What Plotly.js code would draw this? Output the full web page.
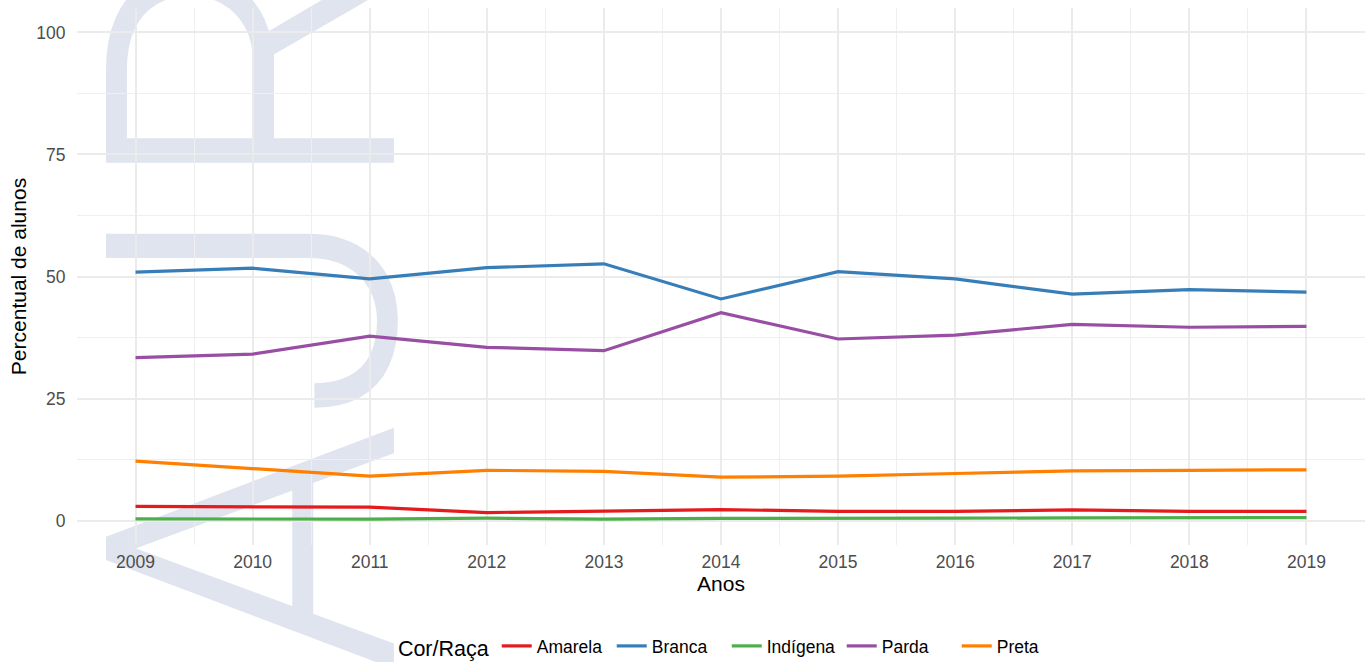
<!DOCTYPE html>
<html>
<head>
<meta charset="utf-8">
<script src="https://cdn.plot.ly/plotly-3.0.1.min.js"></script>
<style>html,body{margin:0;padding:0;background:#fff;}#chart{width:1370px;height:662px;}</style>
</head>
<body>
<div id="chart"></div>
<script>
const anos = [2009, 2010, 2011, 2012, 2013, 2014, 2015, 2016, 2017, 2018, 2019];
const categorias = ['Amarela', 'Branca', 'Indígena', 'Parda', 'Preta'];
const amarela  = [2.9, 2.75, 2.75, 1.65, 2.0, 2.25, 1.9, 1.9, 2.2, 1.9, 1.9];
const branca   = [50.9, 51.7, 49.5, 51.8, 52.6, 45.4, 51.0, 49.5, 46.4, 47.3, 46.8];
const indigena = [0.35, 0.35, 0.3, 0.5, 0.3, 0.45, 0.4, 0.5, 0.55, 0.55, 0.6];
const parda    = [33.4, 34.1, 37.8, 35.5, 34.8, 42.6, 37.2, 38.0, 40.2, 39.6, 39.8];
const preta    = [12.2, 10.6, 9.1, 10.3, 10.1, 8.9, 9.1, 9.65, 10.2, 10.3, 10.4];
const series = [amarela, branca, indigena, parda, preta];
const cores = ['#E41A1C', '#377EB8', '#4DAF4A', '#984EA3', '#FF7F00'];

const font = 'Liberation Sans, Arial, sans-serif';
const traces = categorias.map((nome, i) => ({
  type: 'scatter', mode: 'lines', name: nome,
  x: anos, y: series[i],
  line: {color: cores[i], width: 3.2}
}));

const layout = {
  width: 1370, height: 662,
  margin: {l: 77, r: 5, t: 8, b: 117, autoexpand: false},
  paper_bgcolor: '#ffffff', plot_bgcolor: '#ffffff',
  font: {family: font, color: '#000'},
  showlegend: true,
  xaxis: {
    range: [2008.5, 2019.5], tickmode: 'array', tickvals: anos, ticktext: anos.map(String),
    showgrid: true, gridcolor: '#ebebeb', gridwidth: 2, zeroline: false, showline: false,
    ticks: 'outside', ticklen: 1, tickcolor: 'rgba(0,0,0,0)',
    tickfont: {size: 17.5, color: '#4D4D4D', family: font},
    minor: {dtick: 0.5, tick0: 2008.5, showgrid: true, gridcolor: '#efefef', gridwidth: 1.4, ticks: ''},
    title: {text: 'Anos', font: {size: 21, color: '#000', family: font}, standoff: 5}
  },
  yaxis: {
    range: [-5, 105], tickmode: 'array', tickvals: [0, 25, 50, 75, 100],
    showgrid: true, gridcolor: '#ebebeb', gridwidth: 2, zeroline: false, showline: false,
    ticks: 'outside', ticklen: 7, tickcolor: 'rgba(0,0,0,0)',
    tickfont: {size: 17.5, color: '#4D4D4D', family: font},
    minor: {dtick: 12.5, tick0: 0, showgrid: true, gridcolor: '#efefef', gridwidth: 1.4, ticks: ''},
    title: {text: 'Percentual de alunos', font: {size: 21, color: '#000', family: font}, standoff: 3}
  },
  legend: {
    orientation: 'h', x: 0.51, xanchor: 'center', y: -0.19, yanchor: 'middle',
    font: {size: 17.5, family: font, color: '#000'},
    title: {text: 'Cor/Raça', side: 'left', font: {size: 21.5, family: font, color: '#000'}},
    itemwidth: 30, tracegroupgap: 0,
    entrywidth: 70, entrywidthmode: 'pixels'
  },
  shapes: [{
    type: 'rect', xref: 'paper', yref: 'paper', layer: 'between',
    x0: 0.108, x1: 0.124, y0: 0.428, y1: 0.454,
    line: {width: 0}, fillcolor: 'rgba(0,0,0,0)',
    label: {text: 'AJR', textangle: -90, textposition: 'middle center',
            font: {size: 405, color: '#dfe4ef', family: 'Roboto, Liberation Sans, sans-serif', weight: 300}}
  }]
};

Plotly.newPlot('chart', traces, layout, {displayModeBar: false, responsive: false});
</script>
</body>
</html>
